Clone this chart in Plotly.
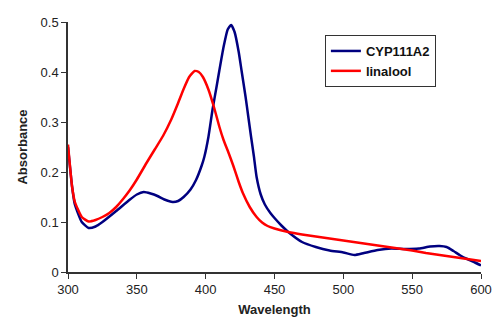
import plotly.graph_objects as go

blue_x = [300, 303, 305, 310, 315, 320, 325, 335, 345, 350, 355, 360, 365, 370, 376, 380, 384, 389, 393, 397, 399, 402, 405, 408, 410, 413, 416, 418.5, 421, 424, 426, 429, 431, 433, 435, 437, 440, 443, 447, 450, 455, 460, 470, 480, 490, 500, 508, 515, 525, 535, 545, 555, 563, 570, 575, 580, 585, 590, 595, 600]
blue_y = [0.25, 0.17, 0.135, 0.1, 0.088, 0.091, 0.1, 0.122, 0.145, 0.155, 0.16, 0.157, 0.152, 0.145, 0.14, 0.142, 0.15, 0.165, 0.184, 0.212, 0.23, 0.27, 0.325, 0.372, 0.404, 0.45, 0.485, 0.494, 0.48, 0.44, 0.404, 0.35, 0.31, 0.27, 0.232, 0.19, 0.155, 0.135, 0.118, 0.108, 0.093, 0.08, 0.06, 0.05, 0.043, 0.039, 0.034, 0.038, 0.044, 0.047, 0.046, 0.047, 0.051, 0.052, 0.05, 0.042, 0.033, 0.026, 0.02, 0.013]

red_x = [300, 303, 305, 310, 315, 320, 325, 330, 335, 340, 345, 350, 357, 363, 369, 375, 380, 384, 388, 392, 395, 398, 402, 406, 410, 413, 416, 420, 424, 427, 432, 437, 441, 445, 450, 460, 470, 480, 490, 500, 510, 520, 530, 540, 550, 560, 570, 580, 590, 600]
red_y = [0.255, 0.17, 0.14, 0.11, 0.101, 0.104, 0.11, 0.118, 0.13, 0.146, 0.164, 0.185, 0.218, 0.245, 0.272, 0.305, 0.338, 0.366, 0.39, 0.402, 0.4, 0.39, 0.365, 0.33, 0.29, 0.264, 0.243, 0.213, 0.18, 0.158, 0.13, 0.11, 0.099, 0.092, 0.087, 0.08, 0.075, 0.071, 0.067, 0.063, 0.059, 0.055, 0.051, 0.047, 0.043, 0.038, 0.034, 0.03, 0.026, 0.022]

x_ticks = [300, 350, 400, 450, 500, 550, 600]
y_ticks = [0, 0.1, 0.2, 0.3, 0.4, 0.5]
y_tick_labels = ["0", "0.1", "0.2", "0.3", "0.4", "0.5"]

FONT = "Liberation Sans, Arial, sans-serif"

fig = go.Figure()
fig.add_trace(go.Scatter(x=blue_x, y=blue_y, mode="lines", name="<b>CYP111A2</b>",
                         line=dict(color="#000080", width=2.5, shape="spline", smoothing=0.5)))
fig.add_trace(go.Scatter(x=red_x, y=red_y, mode="lines", name="<b>linalool</b>",
                         line=dict(color="#ff0000", width=2.5, shape="spline", smoothing=0.5)))

fig.update_layout(
    width=494, height=325,
    margin=dict(l=68, r=13, t=22, b=53),
    paper_bgcolor="white", plot_bgcolor="white",
    font=dict(family=FONT, size=13, color="#222"),
    showlegend=True,
    legend=dict(x=0.622, y=0.948, xanchor="left", yanchor="top",
                bordercolor="#333", borderwidth=1, bgcolor="white",
                font=dict(size=13, family=FONT, color="#111"),
                itemwidth=30, tracegroupgap=0),
    xaxis=dict(range=[300, 600], tickvals=x_ticks, showgrid=False, zeroline=False,
               automargin=False, ticklabeloverflow="allow",
               showline=True, linecolor="#333", linewidth=1.5, ticks="outside", ticklen=5,
               tickcolor="#333", tickfont=dict(size=13),
               title=dict(text="<b>Wavelength</b>", standoff=9, font=dict(size=13))),
    yaxis=dict(range=[0, 0.5], tickvals=y_ticks, ticktext=y_tick_labels, showgrid=False,
               automargin=False,
               zeroline=False, showline=True, linecolor="#333", linewidth=1.5,
               ticks="outside", ticklen=5, tickcolor="#333", tickfont=dict(size=13),
               title=dict(text="<b>Absorbance</b>", standoff=10, font=dict(size=13))),
)

# Remove the browser's default 8px body margin so the figure fills the window.
fig.write_html("out.html",
               config={"displayModeBar": False},
               post_script="document.body.style.margin='0px';document.body.style.overflow='hidden';")
